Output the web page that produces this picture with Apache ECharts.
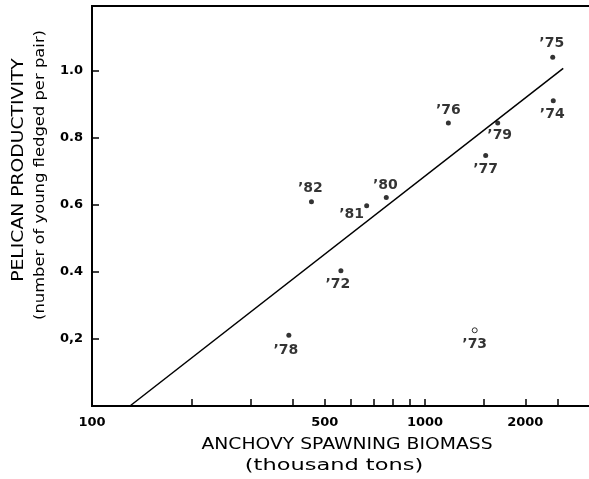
<!DOCTYPE html>
<html>
<head>
<meta charset="utf-8">
<script src="https://cdn.jsdelivr.net/npm/echarts@6/dist/echarts.min.js"></script>
<style>
  html, body { margin: 0; padding: 0; background: #fff; }
  #chart { width: 589px; height: 479px; }
</style>
</head>
<body>
<div id="chart"></div>
<script>
// Pelican productivity vs. anchovy spawning biomass, by year
const years        = ['72', '73', '74', '75', '76', '77', '78', '79', '80', '81', '82'];
const biomass      = [559, 1410, 2427, 2418, 1175, 1521, 390, 1653, 765, 668, 456];   // thousand tons
const productivity = [0.404, 0.226, 0.911, 1.041, 0.845, 0.748, 0.211, 0.845, 0.622, 0.598, 0.610];
const hollowYears  = ['73'];

// fitted regression line end points [biomass, productivity]
const fitLine = [[130, 0], [2600, 1.008]];

// axis ticks and labels
const xTickValues  = [200, 300, 400, 500, 600, 700, 800, 900, 1000, 1500, 2000, 2500];
const xLabelValues = [100, 500, 1000, 2000];
const xLabelTexts  = ['100', '500', '1000', '2000'];
const yTickValues  = [0.2, 0.4, 0.6, 0.8, 1.0];
const yLabelTexts  = ['0,2', '0.4', '0.6', '0.8', '1.0'];

// year label placement around each dot (pixels)
const labelOffset = {
  '72': [-3, 14], '73': [0, 14], '74': [-1, 14], '75': [-1, -14], '76': [0, -13],
  '77': [0, 14], '78': [-3, 15], '79': [2, 12], '80': [-1, -12], '81': [-15, 9], '82': [-1, -13]
};

const FONT = '"DejaVu Sans", sans-serif';

const points = years.map((yr, i) => {
  const hollow = hollowYears.indexOf(yr) >= 0;
  return {
    name: '\u2019' + yr,
    value: [biomass[i], productivity[i]],
    symbolSize: 5,
    itemStyle: hollow
      ? { color: '#fff', borderColor: '#000', borderWidth: 1 }
      : { color: '#000' },
    label: { offset: labelOffset[yr] }
  };
});

const chart = echarts.init(document.getElementById('chart'), null, { renderer: 'canvas' });

chart.setOption({
  animation: false,
  backgroundColor: '#fff',
  grid: {
    left: 92, top: 6, width: 503, height: 400,
    outerBoundsMode: 'none',
    containLabel: false,
    show: true, borderColor: '#000', borderWidth: 2, backgroundColor: 'transparent'
  },
  xAxis: {
    type: 'log',
    logBase: 10,
    min: 100,
    max: 3239,
    axisLine: { show: true, lineStyle: { color: '#000', width: 2 } },
    axisTick: {
      show: true, inside: true, length: 7,
      lineStyle: { color: '#000', width: 1.5 },
      customValues: xTickValues
    },
    minorTick: { show: false },
    splitLine: { show: false },
    axisLabel: {
      customValues: xLabelValues,
      margin: 10,
      color: '#000',
      fontFamily: FONT,
      fontWeight: 'bold',
      fontSize: 13,
      formatter: v => {
        const k = xLabelValues.findIndex(t => Math.abs(t - v) < 1e-6 * t);
        return k >= 0 ? xLabelTexts[k] : '';
      }
    }
  },
  yAxis: {
    type: 'value',
    min: 0,
    max: 1.194,
    axisLine: { show: true, lineStyle: { color: '#000', width: 2 } },
    axisTick: {
      show: true, inside: true, length: 7,
      lineStyle: { color: '#000', width: 1.5 },
      customValues: yTickValues
    },
    splitLine: { show: false },
    axisLabel: {
      customValues: yTickValues,
      margin: 9,
      color: '#000',
      fontFamily: FONT,
      fontWeight: 'bold',
      fontSize: 13,
      formatter: v => {
        const k = yTickValues.findIndex(t => Math.abs(t - v) < 1e-6);
        return k >= 0 ? yLabelTexts[k] : '';
      }
    }
  },
  series: [
    {
      type: 'line',
      data: fitLine,
      symbol: 'none',
      lineStyle: { color: '#000', width: 1.5 },
      silent: true,
      z: 2
    },
    {
      type: 'scatter',
      data: points,
      symbol: 'circle',
      z: 3,
      label: {
        show: true,
        position: 'inside',
        formatter: '{b}',
        color: '#000',
        fontFamily: FONT,
        fontSize: 14,
        fontWeight: 'bold',
        align: 'center',
        verticalAlign: 'middle'
      }
    }
  ],
  graphic: [
    {
      type: 'text', x: 347, y: 445, scaleX: 1.25,
      style: {
        text: 'ANCHOVY SPAWNING BIOMASS', fill: '#000',
        font: '15px ' + FONT, align: 'center', verticalAlign: 'middle'
      }
    },
    {
      type: 'text', x: 334, y: 466, scaleX: 1.5,
      style: {
        text: '(thousand tons)', fill: '#000',
        font: '15px ' + FONT, align: 'center', verticalAlign: 'middle'
      }
    },
    {
      type: 'text', x: 19, y: 170, rotation: Math.PI / 2, scaleX: 1.25,
      style: {
        text: 'PELICAN PRODUCTIVITY', fill: '#000',
        font: '15px ' + FONT, align: 'center', verticalAlign: 'middle'
      }
    },
    {
      type: 'text', x: 40, y: 175, rotation: Math.PI / 2, scaleX: 1.17,
      style: {
        text: '(number of young fledged per pair)', fill: '#000',
        font: '14px ' + FONT, align: 'center', verticalAlign: 'middle'
      }
    }
  ]
});
</script>
</body>
</html>
